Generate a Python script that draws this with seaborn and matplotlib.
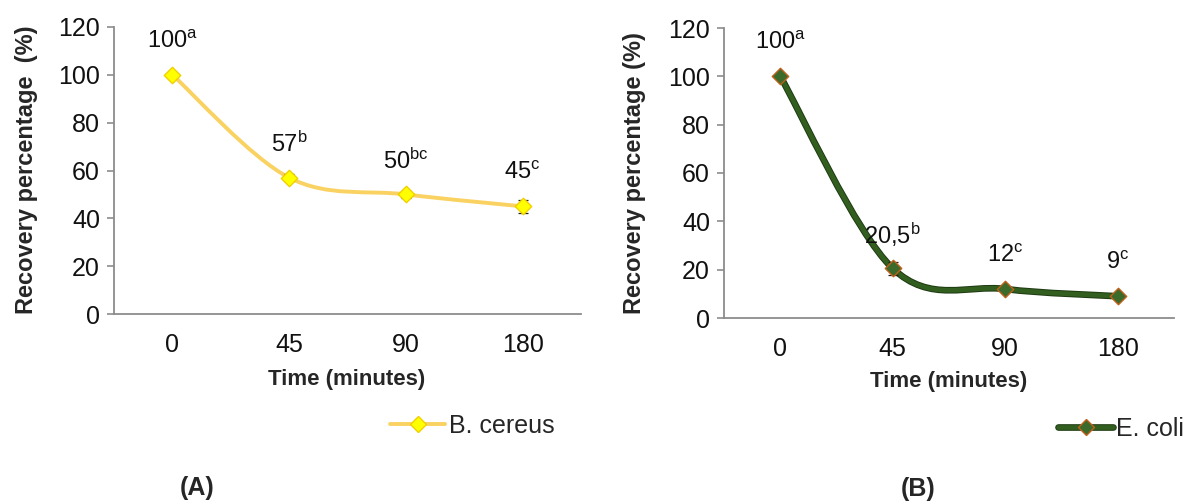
import numpy as np
import pandas as pd
import matplotlib
matplotlib.use('Agg')
import matplotlib.pyplot as plt
import matplotlib.patheffects as pe
from matplotlib.path import Path
from matplotlib.patches import PathPatch
from matplotlib.lines import Line2D
import seaborn as sns

# data
times = ['0', '45', '90', '180']
bcereus = [100, 57, 50, 45]
bcereus_err = [0, 1.5, 1.6, 2.7]
bcereus_text = ['100', '57', '50', '45']
bcereus_letters = ['a', 'b', 'bc', 'c']

ecoli = [100, 20.5, 12, 9]
ecoli_err = [0, 2.7, 1.0, 1.0]
ecoli_text = ['100', '20,5', '12', '9']
ecoli_letters = ['a', 'b', 'c', 'c']

sns.set_style('white')
plt.rcParams['font.family'] = ['Liberation Sans', 'DejaVu Sans']
plt.rcParams['mathtext.fontset'] = 'custom'
plt.rcParams['mathtext.rm'] = 'Liberation Sans'
plt.rcParams['mathtext.it'] = 'Liberation Sans:italic'
plt.rcParams['mathtext.bf'] = 'Liberation Sans:bold'

W, H = 1188, 504
SPINE = '#8c8c8c'


def smooth_path(values):
    """Excel-like smoothed line (Catmull-Rom as cubic Bezier)"""
    pts = np.column_stack([np.arange(len(values)), values]).astype(float)
    pad = np.vstack([pts[0], pts, pts[-1]])
    verts = [pts[0]]
    codes = [Path.MOVETO]
    for i in range(len(pts) - 1):
        p0, p1, p2, p3 = pad[i], pad[i + 1], pad[i + 2], pad[i + 3]
        verts += [p1 + (p2 - p0) / 6, p2 - (p3 - p1) / 6, p2]
        codes += [Path.CURVE4] * 3
    return Path(verts, codes)


def draw_panel(ax, values, errs, texts, letters, line_color, line_fx,
               mk_face, mk_edge, lw):
    df = pd.DataFrame({'time': times, 'value': values})
    patch = PathPatch(smooth_path(values), fill=False, edgecolor=line_color,
                      lw=lw, capstyle='round', joinstyle='round', zorder=2)
    if line_fx:
        patch.set_path_effects(line_fx)
    ax.add_patch(patch)
    ax.errorbar(range(len(values)), values, yerr=errs, fmt='none',
                ecolor='#222222', elinewidth=0.9, capsize=3.5, capthick=0.9,
                zorder=3)
    sns.scatterplot(data=df, x='time', y='value', marker='D', s=70,
                    color=mk_face, edgecolor=mk_edge, linewidth=1.0,
                    zorder=4, legend=False, ax=ax)
    for i, (v, t, l) in enumerate(zip(values, texts, letters)):
        ax.annotate(f'{t}$^{{\\mathrm{{{l}}}}}$', (i, v), xytext=(0, 24),
                    textcoords='offset points', ha='center', va='center',
                    fontsize=17, color='#111111')

    ax.set_xlim(-0.5, 3.5)
    ax.set_ylim(0, 120)
    ax.set_yticks(range(0, 121, 20))
    ax.set_xticks(np.arange(-0.5, 3.6, 1.0))
    ax.set_xticklabels([])
    ax.set_xticks(range(4), minor=True)
    ax.set_xticklabels(times, minor=True)
    ax.tick_params(axis='x', which='major', direction='out', length=5,
                   width=1.2, color=SPINE)
    ax.tick_params(axis='x', which='minor', length=0, pad=14,
                   labelsize=18, labelcolor='#111111')
    ax.tick_params(axis='y', direction='out', length=5, width=1.2,
                   color=SPINE, pad=5, labelsize=18, labelcolor='#111111',
                   left=True)
    ax.set_xlabel('')
    ax.set_ylabel('')
    for s in ['top', 'right']:
        ax.spines[s].set_visible(False)
    for s in ['left', 'bottom']:
        ax.spines[s].set_color(SPINE)
        ax.spines[s].set_linewidth(1.3)


fig = plt.figure(figsize=(W / 100, H / 100), dpi=100)
axA = fig.add_axes([114 / W, 1 - 314 / H, (581 - 114) / W, (314 - 27) / H])
axB = fig.add_axes([724 / W, 1 - 318 / H, (1174 - 724) / W, (318 - 28) / H])

# panel A - B. cereus
a_line = '#f9d262'
draw_panel(axA, bcereus, bcereus_err, bcereus_text, bcereus_letters,
           a_line, None, '#ffff00', '#f0d000', 2.8)

# panel B - E. coli
b_line = '#325e1f'
b_fx = [pe.Stroke(linewidth=4.8, foreground='#1e3a12'), pe.Normal()]
draw_panel(axB, ecoli, ecoli_err, ecoli_text, ecoli_letters,
           b_line, b_fx, '#3c6a2a', '#c0601a', 3.4)

# axis titles
fig.text(27 / W, 1 - 170 / H, 'Recovery percentage  (%)', rotation=90,
         ha='center', va='center', fontsize=17, fontweight='bold')
fig.text(347 / W, 1 - 380 / H, 'Time (minutes)', ha='center', va='center',
         fontsize=16, fontweight='bold')
fig.text(635 / W, 1 - 173 / H, 'Recovery percentage (%)', rotation=90,
         ha='center', va='center', fontsize=17, fontweight='bold')
fig.text(949 / W, 1 - 382 / H, 'Time (minutes)', ha='center', va='center',
         fontsize=16, fontweight='bold')

# legends: line and marker as separate handles so the outline stays on the line
hA_line = Line2D([], [], color=a_line, lw=2.8)
hA_mk = Line2D([], [], ls='none', marker='D', markersize=8,
               markerfacecolor='#ffff00', markeredgecolor='#f0d000')
axA.legend([(hA_line, hA_mk)], ['B. cereus'], loc='center left',
           bbox_to_anchor=(390 / W, 1 - 426 / H), bbox_transform=fig.transFigure,
           frameon=False, fontsize=18, handlelength=2.2, handletextpad=0.15,
           borderpad=0, borderaxespad=0, numpoints=1)
hB_line = Line2D([], [], color=b_line, lw=3.4, path_effects=b_fx)
hB_mk = Line2D([], [], ls='none', marker='D', markersize=8,
               markerfacecolor='#3c6a2a', markeredgecolor='#c0601a')
axB.legend([(hB_line, hB_mk)], ['E. coli'], loc='center left',
           bbox_to_anchor=(1058 / W, 1 - 429 / H), bbox_transform=fig.transFigure,
           frameon=False, fontsize=18, handlelength=2.2, handletextpad=0.1,
           borderpad=0, borderaxespad=0, numpoints=1)

# panel letters
fig.text(197 / W, 1 - 488 / H, '(A)', ha='center', va='center',
         fontsize=18, fontweight='bold')
fig.text(918 / W, 1 - 489 / H, '(B)', ha='center', va='center',
         fontsize=18, fontweight='bold')

fig.savefig('out.png', dpi=100)
